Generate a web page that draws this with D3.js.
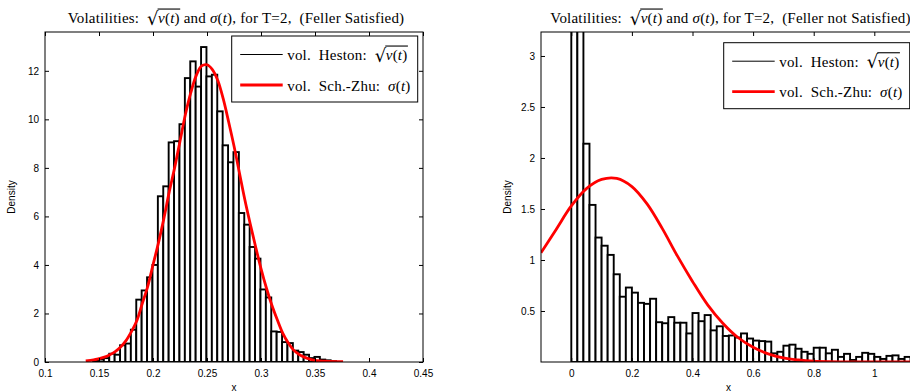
<!DOCTYPE html>
<html>
<head>
<meta charset="utf-8">
<script src="https://cdn.jsdelivr.net/npm/d3@7"></script>
<style>
  body { margin: 0; background: #fff; }
  .serif { font-family: "Liberation Serif", "Times New Roman", serif; }
</style>
</head>
<body>
<div id="chart"></div>
<script>
// ---- data ----
// left panel: Feller satisfied
const leftBinStart = 0.1445;
const leftBinWidth = 0.005;
const leftHeights = [0.05, 0.1, 0.16, 0.34, 0.3, 0.69, 0.76, 1.33, 2.57, 2.95, 3.49, 4.0,
  6.83, 7.24, 9.05, 9.1, 9.8, 11.7, 12.39, 11.35, 12.98, 11.77, 11.84, 10.33, 8.93, 8.23,
  8.65, 6.14, 5.66, 4.74, 4.26, 2.99, 2.66, 1.26, 1.24, 0.82, 0.78, 0.47, 0.41, 0.30, 0.16,
  0.21, 0.1, 0.07, 0.03];
const leftCurveX = [0.1377, 0.145, 0.15, 0.155, 0.16, 0.165, 0.17, 0.175, 0.18, 0.185, 0.19,
  0.195, 0.2, 0.205, 0.21, 0.215, 0.22, 0.225, 0.23, 0.235, 0.24, 0.245, 0.25, 0.255, 0.26,
  0.265, 0.27, 0.275, 0.28, 0.285, 0.29, 0.295, 0.3, 0.305, 0.31, 0.315, 0.32, 0.325, 0.33,
  0.335, 0.34, 0.345, 0.35, 0.36, 0.376];
const leftCurveY = [0.05, 0.09, 0.14, 0.2, 0.3, 0.43, 0.62, 0.88, 1.25, 1.7, 2.4, 3.1, 4.0,
  4.9, 5.9, 7.0, 8.0, 9.1, 10.2, 11.1, 11.8, 12.2, 12.25, 12.05, 11.6, 10.85, 9.9, 8.9, 7.8,
  6.7, 5.7, 4.75, 3.85, 3.05, 2.35, 1.75, 1.2, 0.8, 0.5, 0.32, 0.2, 0.12, 0.07, 0.03, 0.01];
const leftXTicks = [0.1, 0.15, 0.2, 0.25, 0.3, 0.35, 0.4, 0.45];
const leftYTicks = [0, 2, 4, 6, 8, 10, 12];

// right panel: Feller not satisfied
const rightBinStart = 0;
const rightBinWidth = 0.02;
const rightHeights = [5.0, 3.9, 2.14, 1.54, 1.22, 1.14, 1.05, 0.86, 0.64, 0.73, 0.68, 0.58,
  0.57, 0.62, 0.39, 0.38, 0.44, 0.385, 0.385, 0.28, 0.48, 0.40, 0.46, 0.31, 0.35, 0.255,
  0.26, 0.24, 0.28, 0.23, 0.21, 0.205, 0.20, 0.085, 0.10, 0.16, 0.17, 0.13, 0.10, 0.08,
  0.14, 0.14, 0.085, 0.12, 0.05, 0.08, 0.02, 0.05, 0.09, 0.08, 0.05, 0.03, 0.06, 0.065,
  0.03, 0.05, 0.04];
const rightCurveX = [-0.1, -0.05, 0, 0.05, 0.1, 0.15, 0.2, 0.25, 0.3, 0.35, 0.4, 0.45, 0.5,
  0.55, 0.6, 0.65, 0.7, 0.75, 0.8, 0.85, 0.9, 1.0, 1.14];
const rightCurveY = [1.07, 1.30, 1.53, 1.70, 1.79, 1.80, 1.72, 1.55, 1.31, 1.04, 0.79, 0.56,
  0.38, 0.24, 0.145, 0.08, 0.04, 0.02, 0.008, 0.003, 0.001, 0, 0];
const rightXTicks = [0, 0.2, 0.4, 0.6, 0.8, 1];
const rightYTicks = [0.5, 1, 1.5, 2, 2.5, 3];

const titleTails = ['), for T=2,  (Feller Satisfied)', '), for T=2,  (Feller not Satisfied)'];

// ---- drawing ----
const W = 910, H = 392;
const svg = d3.select('#chart').append('svg')
  .attr('width', W).attr('height', H)
  .style('display', 'block');

// lays out a row of text pieces (some italic, some under a radical) one after another
function richText(parent, x, y, segs, anchor, size) {
  const g = parent.append('g').attr('class', 'serif').attr('font-size', size).attr('fill', '#000');
  let cx = 0;
  function put(s) {
    const t = g.append('text')
      .attr('x', cx).attr('y', 0)
      .style('white-space', 'pre')
      .attr('letter-spacing', 0.2)
      .attr('font-style', s.it ? 'italic' : null)
      .text(s.t);
    cx += t.node().getComputedTextLength();
  }
  segs.forEach(s => {
    if (s.sqrt) {
      const r = g.append('text')
        .attr('x', cx).attr('y', 1.5)
        .attr('font-size', size * 1.2)
        .attr('font-family', 'DejaVu Serif')
        .text('\u221A');
      cx += r.node().getComputedTextLength() - 0.5;
      const start = cx;
      s.sqrt.forEach(put);
      g.append('line')
        .attr('x1', start - 0.5).attr('x2', cx + 0.5)
        .attr('y1', -size * 0.93).attr('y2', -size * 0.93)
        .attr('stroke', '#000').attr('stroke-width', 1.1);
    } else {
      put(s);
    }
  });
  const shift = anchor === 'middle' ? -cx / 2 : 0;
  g.attr('transform', `translate(${x + shift},${y})`);
}

const vOfT = [{ t: 'v', it: 1 }, { t: '(' }, { t: 't', it: 1 }, { t: ')' }];

function drawPanel(p) {
  const x = d3.scaleLinear().domain(p.xDomain).range([p.x0, p.x1]);
  const y = d3.scaleLinear().domain(p.yDomain).range([p.y1, p.y0]);

  const clipId = 'clip' + p.id;
  svg.append('clipPath').attr('id', clipId)
    .append('rect')
    .attr('x', p.x0).attr('y', p.y0)
    .attr('width', p.x1 - p.x0).attr('height', p.y1 - p.y0);

  const plot = svg.append('g').attr('clip-path', `url(#${clipId})`);

  // histogram bars
  plot.selectAll('rect.bar')
    .data(p.heights)
    .enter().append('rect')
    .attr('class', 'bar')
    .attr('x', (d, i) => x(p.binStart + i * p.binWidth))
    .attr('width', (d, i) => x(p.binStart + (i + 1) * p.binWidth) - x(p.binStart + i * p.binWidth))
    .attr('y', d => y(d))
    .attr('height', d => y(0) - y(d))
    .attr('fill', '#fff')
    .attr('stroke', '#000')
    .attr('stroke-width', 1.9);

  // fitted density
  const pts = p.curveX.map((v, i) => [v, p.curveY[i]]);
  plot.append('path')
    .datum(pts)
    .attr('d', d3.line().x(d => x(d[0])).y(d => y(d[1])).curve(d3.curveCatmullRom.alpha(0.5)))
    .attr('fill', 'none')
    .attr('stroke', '#ff0000')
    .attr('stroke-width', 2.8)
    .attr('stroke-linejoin', 'round');

  // axes: ticks pointing inward on all four sides
  const fmt = d3.format('');
  const ax = (gen, tx, ty, labels) => {
    const g = svg.append('g')
      .attr('transform', `translate(${tx},${ty})`)
      .call(gen);
    g.select('.domain').remove();
    g.attr('font-family', '"Liberation Sans", Arial, sans-serif').attr('font-size', 10);
    g.selectAll('line').attr('stroke', '#000');
    g.selectAll('text').attr('fill', '#000');
    if (!labels) g.selectAll('text').remove();
  };
  ax(d3.axisBottom(x).tickValues(p.xTicks).tickSize(-4).tickPadding(8).tickFormat(fmt), 0, p.y1, true);
  ax(d3.axisTop(x).tickValues(p.xTicks).tickSize(-4), 0, p.y0, false);
  ax(d3.axisLeft(y).tickValues(p.yTicks).tickSize(-4).tickPadding(6).tickFormat(fmt), p.x0, 0, true);
  ax(d3.axisRight(y).tickValues(p.yTicks).tickSize(-4), p.x1, 0, false);

  // frame
  svg.append('rect')
    .attr('x', p.x0).attr('y', p.y0)
    .attr('width', p.x1 - p.x0).attr('height', p.y1 - p.y0)
    .attr('fill', 'none').attr('stroke', '#000').attr('stroke-width', 1);

  // axis labels
  svg.append('text')
    .attr('x', (p.x0 + p.x1) / 2).attr('y', 391)
    .attr('text-anchor', 'middle')
    .attr('font-family', '"Liberation Sans", Arial, sans-serif').attr('font-size', 10)
    .text('x');
  svg.append('text')
    .attr('transform', `translate(${p.x0 - 30.5},${(p.y0 + p.y1) / 2}) rotate(-90)`)
    .attr('text-anchor', 'middle')
    .attr('font-family', '"Liberation Sans", Arial, sans-serif').attr('font-size', 10)
    .text('Density');

  // title
  richText(svg, (p.x0 + p.x1) / 2 + 2, 23, [
    { t: 'Volatilities:  ' }, { sqrt: vOfT }, { t: ' and ' },
    { t: '\u03C3', it: 1 }, { t: '(' }, { t: 't', it: 1 }, { t: p.titleTail }
  ], 'middle', 15);

  // legend
  const lg = p.legend;
  svg.append('rect')
    .attr('x', lg.x).attr('y', lg.y).attr('width', 186).attr('height', 66)
    .attr('fill', '#fff').attr('stroke', '#000').attr('stroke-width', 1);
  svg.append('line')
    .attr('x1', lg.x + 8.5).attr('x2', lg.x + 51).attr('y1', lg.y + 18.5).attr('y2', lg.y + 18.5)
    .attr('stroke', '#000').attr('stroke-width', 1);
  svg.append('line')
    .attr('x1', lg.x + 8.5).attr('x2', lg.x + 51).attr('y1', lg.y + 49).attr('y2', lg.y + 49)
    .attr('stroke', '#ff0000').attr('stroke-width', 2.8);
  richText(svg, lg.x + 55.5, lg.y + 24, [{ t: 'vol.  Heston:  ' }, { sqrt: vOfT }], 'start', 15);
  richText(svg, lg.x + 55.5, lg.y + 54.5, [
    { t: 'vol.  Sch.-Zhu:  ' }, { t: '\u03C3', it: 1 }, { t: '(' }, { t: 't', it: 1 }, { t: ')' }
  ], 'start', 15);
}

drawPanel({
  id: 'L', x0: 45, x1: 423, y0: 32, y1: 362,
  xDomain: [0.1, 0.45], yDomain: [0, 13.6],
  binStart: leftBinStart, binWidth: leftBinWidth, heights: leftHeights,
  curveX: leftCurveX, curveY: leftCurveY,
  xTicks: leftXTicks, yTicks: leftYTicks,
  titleTail: titleTails[0],
  legend: { x: 231.7, y: 36 }
});

drawPanel({
  id: 'R', x0: 541, x1: 916, y0: 32, y1: 362,
  xDomain: [-0.1, 1.1376], yDomain: [0, 3.235],
  binStart: rightBinStart, binWidth: rightBinWidth, heights: rightHeights,
  curveX: rightCurveX, curveY: rightCurveY,
  xTicks: rightXTicks, yTicks: rightYTicks,
  titleTail: titleTails[1],
  legend: { x: 723.7, y: 42.7 }
});
</script>
</body>
</html>
